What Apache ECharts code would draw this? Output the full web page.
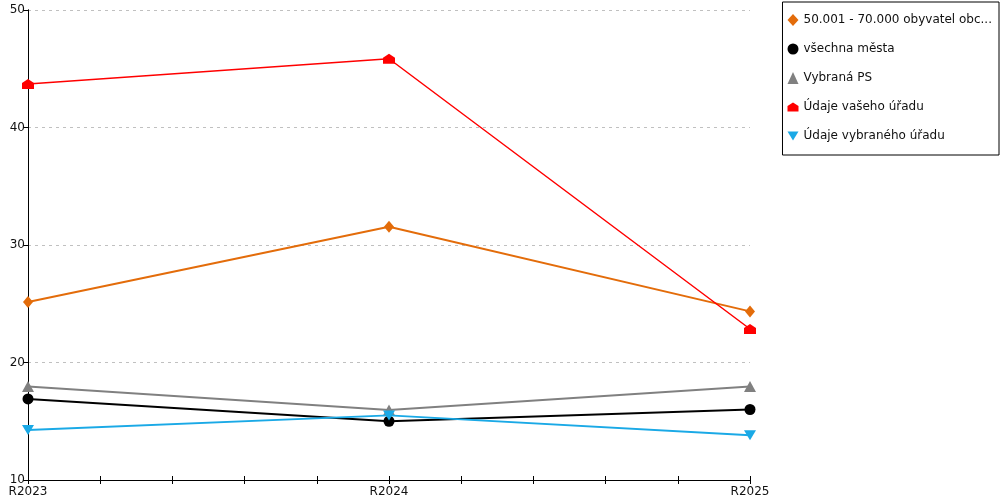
<!DOCTYPE html>
<html><head><meta charset="utf-8">
<script src="https://cdn.jsdelivr.net/npm/echarts@6/dist/echarts.min.js"></script>
<style>html,body{margin:0;padding:0;background:#fff}#c{width:1000px;height:500px}</style>
</head><body><div id="c"></div>
<script>
var categories = ['R2023', 'R2024', 'R2025'];
var seriesNames = ['50.001 - 70.000 obyvatel obc...', 'všechna města', 'Vybraná PS', 'Údaje vašeho úřadu', 'Údaje vybraného úřadu'];
var obce50_70 = [25.15, 31.55, 24.35];
var vsechnaMesta = [16.9, 15.0, 16.0];
var vybranaPS = [17.95, 15.95, 17.95];
var vasUrad = [43.7, 45.85, 22.85];
var vybranyUrad = [14.25, 15.5, 13.8];
var yTicks = [10, 20, 30, 40, 50];

var houseSym = 'path://M0,4 L6,0 L12,4 L12,10 L0,10 Z';
var downTri = 'path://M0,0 L12,0 L6,10 Z';
var colors = ['#E36C0A', '#000000', '#808080', '#FF0000', '#1AA9E6'];
var symbols = ['diamond', 'circle', 'triangle', houseSym, downTri];
var sizes = [[10, 12], 11, [12, 11], [12, 10], [12, 10]];
var widths = [2, 2, 2, 1.5, 2];
var datas = [obce50_70, vsechnaMesta, vybranaPS, vasUrad, vybranyUrad];

var font = 'DejaVu Sans';
var series = seriesNames.map(function (n, i) {
  return {
    name: n, type: 'line', data: datas[i], xAxisIndex: 0, yAxisIndex: 0,
    symbol: symbols[i], symbolSize: sizes[i],
    itemStyle: { color: colors[i] },
    lineStyle: { color: colors[i], width: widths[i] },
    emphasis: { disabled: true }, animation: false, z: 2 + i
  };
});

var chart = echarts.init(document.getElementById('c'));
chart.setOption({
  animation: false,
  grid: { left: 28, right: 250, top: 10, bottom: 20, containLabel: false },
  legend: {
    orient: 'vertical', right: 1, top: 2,
    padding: [12, 7, 13, 5], itemGap: 17, itemWidth: 11, itemHeight: 12,
    borderColor: '#000', borderWidth: 1, backgroundColor: '#fff',
    textStyle: { fontFamily: font, fontSize: 12, color: '#111' },
    data: seriesNames.map(function (n, i) { return { name: n, icon: symbols[i] }; })
  },
  xAxis: [
    {
      type: 'category', data: categories, boundaryGap: false, position: 'bottom',
      axisLine: { show: true, lineStyle: { color: '#000', width: 1 } },
      axisTick: { show: false },
      axisLabel: { fontFamily: font, fontSize: 12, color: '#111', margin: 6 },
      splitLine: { show: false }
    },
    {
      type: 'value', min: 0, max: 2, interval: 1, position: 'bottom',
      axisLine: { show: false }, axisLabel: { show: false }, splitLine: { show: false },
      axisTick: { show: true, inside: false, length: 4, lineStyle: { color: '#000' } },
      minorTick: { show: true, splitNumber: 5, length: 4, lineStyle: { color: '#000' } },
      minorSplitLine: { show: false }
    },
    {
      type: 'value', min: 0, max: 2, interval: 1, position: 'bottom',
      axisLine: { show: false }, axisLabel: { show: false }, splitLine: { show: false },
      axisTick: { show: true, inside: true, length: 4, lineStyle: { color: '#000' } },
      minorTick: { show: true, splitNumber: 5, length: 4, lineStyle: { color: '#000' } },
      minorSplitLine: { show: false }
    }
  ],
  yAxis: [
    {
      type: 'value', min: yTicks[0], max: yTicks[yTicks.length - 1], interval: 10, position: 'left',
      axisLine: { show: true, lineStyle: { color: '#000' } },
      axisTick: { show: true, length: 5, lineStyle: { color: '#000' } },
      axisLabel: { fontFamily: font, fontSize: 12, color: '#111', margin: 3 },
      splitLine: { show: true, lineStyle: { color: '#c0c0c0', type: [3, 4], width: 1 } }
    },
    {
      type: 'value', min: yTicks[0], max: yTicks[yTicks.length - 1], interval: 10, position: 'right',
      axisLine: { show: true, lineStyle: { color: '#000' } },
      axisTick: { show: false }, axisLabel: { show: false }, splitLine: { show: false }
    }
  ],
  series: series
});
</script></body></html>
